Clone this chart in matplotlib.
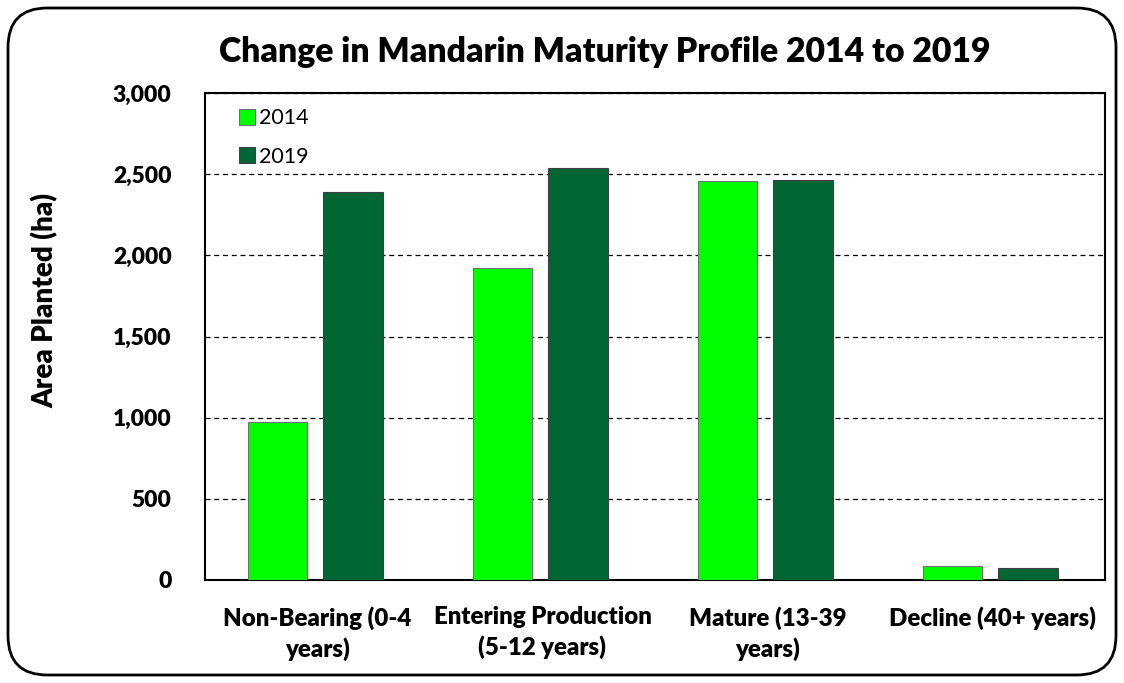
import numpy as np
import matplotlib.pyplot as plt
from matplotlib.patches import FancyBboxPatch

plt.rcParams['font.family'] = ['Lato', 'DejaVu Sans']

categories = ['Non-Bearing (0-4\nyears)', 'Entering Production\n(5-12 years)',
              'Mature (13-39\nyears)', 'Decline (40+ years)']
area_2014 = [975, 1925, 2460, 85]
area_2019 = [2390, 2540, 2465, 72]
y_ticks = [0, 500, 1000, 1500, 2000, 2500, 3000]

fig = plt.figure(figsize=(11.24, 6.83), dpi=100)
ax = fig.add_axes([205 / 1124, 1 - 580 / 683, 900 / 1124, 487 / 683])

# rounded frame round the whole chart
frame = FancyBboxPatch((8 / 1124, 8 / 683), 1108 / 1124, 667 / 683,
                       boxstyle='round,pad=0,rounding_size=0.035',
                       transform=fig.transFigure, fill=False,
                       edgecolor='black', linewidth=2, mutation_aspect=1124 / 683)
fig.patches.append(frame)

x = np.arange(len(categories))
w = 0.265
ax.bar(x - 0.178, area_2014, w, color='#00FF00', edgecolor='#707070',
       linewidth=0.8, label='2014', zorder=3)
ax.bar(x + 0.158, area_2019, w, color='#006633', edgecolor='#404040',
       linewidth=0.8, label='2019', zorder=3)

ax.set_xlim(-0.5, len(categories) - 0.5)
ax.set_ylim(0, 3000)
ax.set_yticks(y_ticks, labels=[f'{v:,}' for v in y_ticks],
              fontsize=16.5, fontweight='heavy')
ax.set_xticks(x, labels=categories, fontsize=17.3, fontweight='heavy',
              linespacing=1.35)
ax.tick_params(axis='y', length=0, pad=24)
ax.tick_params(axis='x', length=0, pad=19)
ax.yaxis.grid(True, linestyle=(0, (4, 3)), color='black', linewidth=0.9, zorder=0)
for s in ax.spines.values():
    s.set_linewidth(1.5)
    s.set_color('black')

fig.text(45 / 1124, 1 - 301 / 683, 'Area Planted (ha)', rotation=90,
         ha='center', va='center', fontsize=20, fontweight='heavy')
fig.text(605 / 1124, 1 - 52 / 683, 'Change in Mandarin Maturity Profile 2014 to 2019',
         ha='center', va='center', fontsize=24.3, fontweight='heavy')

ax.legend(loc='upper left', bbox_to_anchor=(0.016, 1.008), frameon=False,
          fontsize=15.5, handlelength=0.75, handleheight=0.75, handletextpad=0.2,
          labelspacing=0.85)

fig.savefig('out.png', dpi=100)
